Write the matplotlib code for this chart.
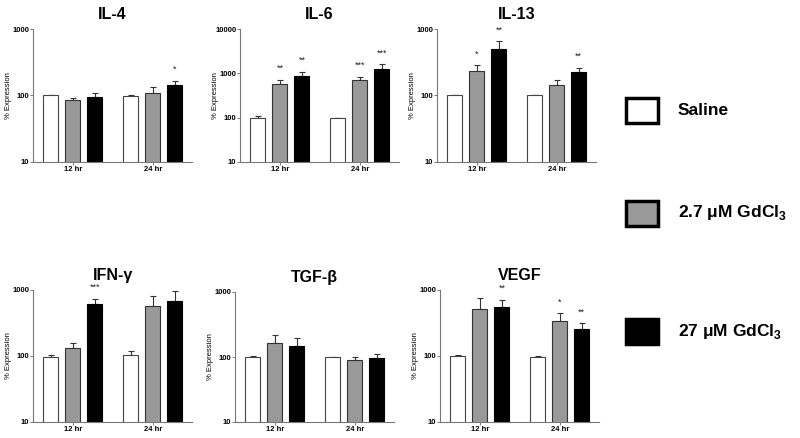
import matplotlib
matplotlib.use('Agg')
import matplotlib.pyplot as plt
from matplotlib.patches import Rectangle
import numpy as np

plt.rcParams['font.family'] = ['Liberation Sans', 'DejaVu Sans']
plt.rcParams['mathtext.fontset'] = 'custom'
plt.rcParams['mathtext.rm'] = 'Liberation Sans:bold'

W, H = 800, 438

groups = ['12 hr', '24 hr']
treatments = ['Saline', '2.7 \u03bcM GdCl$_\\mathregular{3}$', '27 \u03bcM GdCl$_\\mathregular{3}$']

# rows: saline, 2.7 uM, 27 uM ; columns: 12 hr, 24 hr
il4_mean = [[100, 98], [85, 108], [96, 144]]
il4_err = [[2, 5], [8, 25], [12, 22]]
il4_star = [['', ''], ['', ''], ['', '*']]

il6_mean = [[97, 97], [578, 700], [880, 1268]]
il6_err = [[13, 3], [147, 135], [205, 317]]
il6_star = [['', ''], ['**', '***'], ['**', '***']]

il13_mean = [[100, 100], [233, 145], [508, 225]]
il13_err = [[2, 3], [51, 29], [142, 37]]
il13_star = [['', ''], ['*', ''], ['**', '**']]

ifn_mean = [[98, 105], [130, 578], [612, 680]]
ifn_err = [[7, 13], [28, 224], [118, 286]]
ifn_star = [['', ''], ['', ''], ['***', '']]

tgf_mean = [[100, 100], [166, 89], [146, 98]]
tgf_err = [[2, 1], [55, 11], [52, 13]]
tgf_star = [['', ''], ['', ''], ['', '']]

vegf_mean = [[100, 96], [514, 338], [558, 256]]
vegf_err = [[3, 4], [233, 105], [147, 56]]
vegf_star = [['', ''], ['', '*'], ['**', '**']]

panels = [
  ('IL-4', il4_mean, il4_err, il4_star, 1000, (33, 29, 162)),
  ('IL-6', il6_mean, il6_err, il6_star, 10000, (240, 29, 162)),
  ('IL-13', il13_mean, il13_err, il13_star, 1000, (437, 29, 162)),
  ('IFN-\u03b3', ifn_mean, ifn_err, ifn_star, 1000, (33, 290, 422)),
  ('TGF-\u03b2', tgf_mean, tgf_err, tgf_star, 1000, (235, 292, 422)),
  ('VEGF', vegf_mean, vegf_err, vegf_star, 1000, (440, 290, 422)),
]

faces = ['white', '#999999', 'black']
edges = ['#444444', '#333333', 'black']
offsets = [-0.275, 0.0, 0.275]
BW = 0.1875
AXW = 159

fig = plt.figure(figsize=(W / 100, H / 100), dpi=100)

for title, mean, err, star, ytop, (px, ptop, pbot) in panels:
  ax = fig.add_axes([px / W, 1 - pbot / H, AXW / W, (pbot - ptop) / H])
  x = np.arange(len(groups))
  for i in range(3):
    m = np.array(mean[i], dtype=float)
    e = np.array(err[i], dtype=float)
    ax.bar(x + offsets[i], m, BW, color=faces[i], edgecolor=edges[i], linewidth=0.8, zorder=2)
    ax.errorbar(x + offsets[i], m, yerr=[np.zeros_like(e), e], fmt='none',
                ecolor='#333333', elinewidth=0.8, capsize=2.5, capthick=0.8, zorder=1)
    for j in range(len(groups)):
      if star[i][j]:
        ax.annotate(star[i][j], (x[j] + offsets[i], m[j] + e[j]), xytext=(0, 5),
                    textcoords='offset points', ha='center', va='bottom', fontsize=6.5,
                    color='#222222')
  ax.set_yscale('log')
  ax.set_ylim(10, ytop)
  ax.set_xlim(-0.5, 1.49)
  ax.set_xticks(x)
  ax.set_xticklabels(groups, fontsize=5.5, fontweight='bold')
  ax.yaxis.set_major_locator(matplotlib.ticker.LogLocator(base=10))
  ax.yaxis.set_minor_locator(matplotlib.ticker.NullLocator())
  ax.yaxis.set_major_formatter(matplotlib.ticker.FuncFormatter(lambda v, p: '%d' % v))
  for lab in ax.get_yticklabels():
    lab.set_fontweight('bold')
  ax.tick_params(axis='y', labelsize=5.5, length=2, width=0.6, pad=0.5, color='#666666')
  ax.tick_params(axis='x', length=2, width=0.6, pad=1, color='#666666')
  for s in ['top', 'right']:
    ax.spines[s].set_visible(False)
  for s in ['left', 'bottom']:
    ax.spines[s].set_color('#777777')
    ax.spines[s].set_linewidth(0.8)
  ax.set_ylabel('% Expression', fontsize=5.5)
  ax.yaxis.set_label_coords(-21 / AXW, 0.5)
  ax.set_title(title, fontsize=11.5, fontweight='bold', pad=7)

# Legend.
legend_y = [110.5, 213, 331.5]
for face, edge, label, cy in zip(faces, edges, treatments, legend_y):
  fig.add_artist(Rectangle((626 / W, 1 - (cy + 12.5) / H), 32 / W, 25 / H,
                           facecolor=face, edgecolor='black', linewidth=2.5,
                           transform=fig.transFigure))
  fig.text(678 / W, 1 - cy / H, label, fontsize=12.5, fontweight='bold', va='center', ha='left')

fig.savefig('out.png', dpi=100)
